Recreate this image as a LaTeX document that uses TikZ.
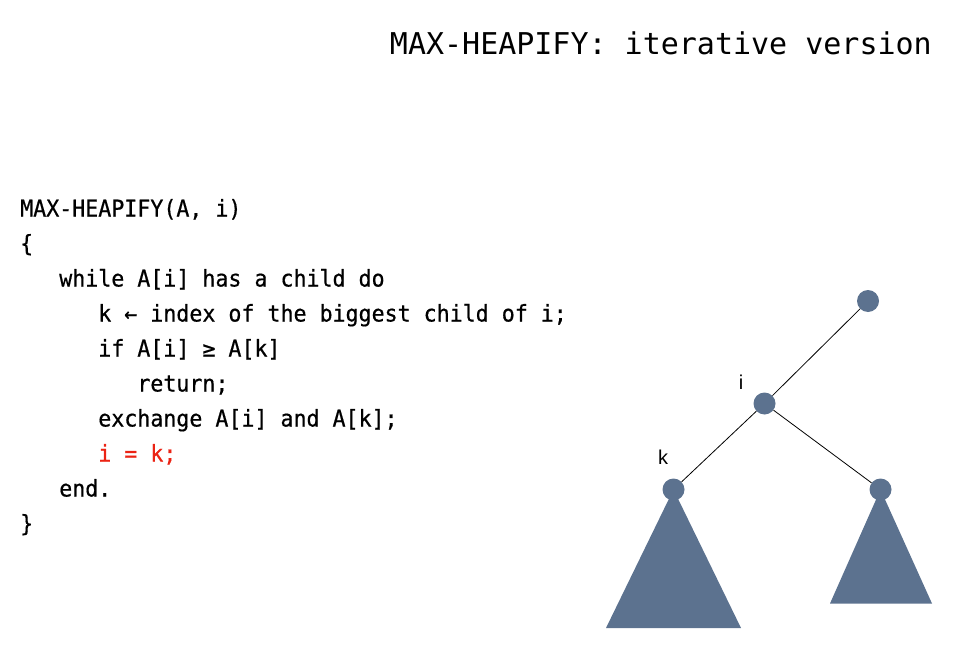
\documentclass[tikz,border=0pt]{standalone}
\usepackage{fontspec}
\newfontfamily\codefont[FakeStretch=0.94,FakeBold=0.6]{DejaVu Sans Mono}
\newfontfamily\titlefont{DejaVu Sans Mono}
\newfontfamily\labfont{Liberation Sans}
\definecolor{nodeblue}{RGB}{92,114,143}
\definecolor{codered}{RGB}{235,35,20}
\begin{document}
\begin{tikzpicture}[x=1pt,y=-1pt,
  codeline/.style={anchor=base west,inner sep=0pt,font=\codefont\fontsize{23}{23}\selectfont},
  treenode/.style={circle,fill=nodeblue,minimum size=22pt,inner sep=0pt},
  subtree/.style={fill=nodeblue},
  edge/.style={draw=black,line width=0.8pt},
  lab/.style={inner sep=0pt,font=\labfont\fontsize{20}{20}\selectfont}]
\useasboundingbox (0,0) rectangle (959,669);
\node[anchor=base east,inner sep=0pt,font=\titlefont\fontsize{30}{30}\selectfont] (title) at (932,55) {MAX-HEAPIFY: iterative version};
\node[codeline] (l1) at (20,216.5) {MAX-HEAPIFY(A, i)};
\node[codeline] (l2) at (20,251.5) {\{};
\node[codeline] (l3) at (20,286.5) {\ \ \ while A[i] has a child do};
\node[codeline] (l4) at (20,321.5) {\ \ \ \ \ \ k ← index of the biggest child of i;};
\node[codeline] (l5) at (20,356.5) {\ \ \ \ \ \ if A[i] ≥ A[k]};
\node[codeline] (l6) at (20,391.5) {\ \ \ \ \ \ \ \ \ return;};
\node[codeline] (l7) at (20,426.5) {\ \ \ \ \ \ exchange A[i] and A[k];};
\node[codeline,text=codered] (l8) at (20,461.5) {\ \ \ \ \ \ i = k;};
\node[codeline] (l9) at (20,496.5) {\ \ \ end.};
\node[codeline] (l10) at (20,531.5) {\}};
% subtrees
\coordinate (kc) at (673.5,489.5);
\coordinate (rc) at (880.5,489.5);
\coordinate (lbl) at (606,628);
\coordinate (lbr) at (741,628);
\coordinate (rbl) at (830,603.5);
\coordinate (rbr) at (932,603.5);
\fill[subtree] (kc) -- (lbr) -- (lbl) -- cycle;
\fill[subtree] (rc) -- (rbr) -- (rbl) -- cycle;
% nodes
\node[treenode] (root) at (868,301) {};
\node[treenode] (ni) at (764.5,403.5) {};
\node[treenode] (nk) at (kc) {};
\node[treenode] (nr) at (rc) {};
\draw[edge] (root) -- (ni);
\draw[edge] (ni) -- (nk);
\draw[edge] (ni) -- (nr);
\node[lab] (li) at (741,382) {i};
\node[lab] (lk) at (663,457.5) {k};
\end{tikzpicture}
\end{document}
